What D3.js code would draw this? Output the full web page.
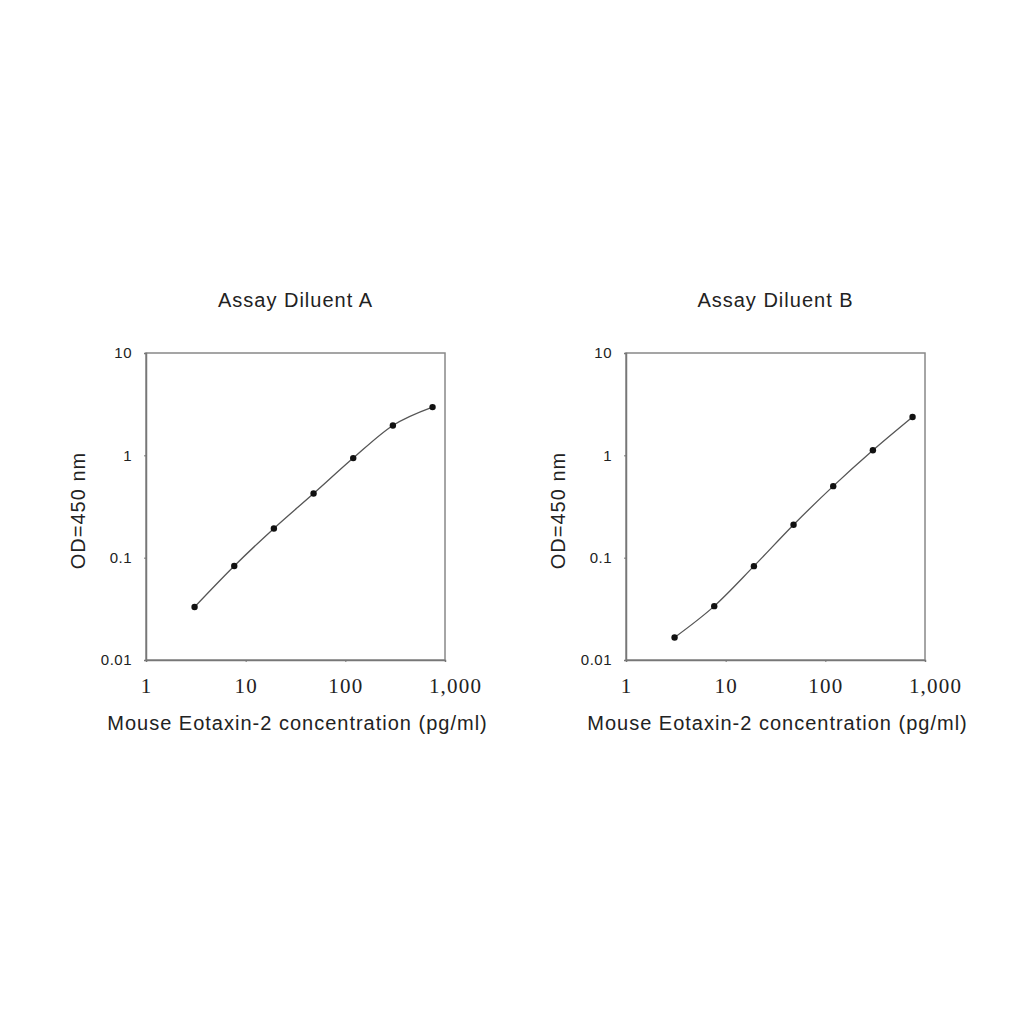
<!DOCTYPE html>
<html>
<head>
<meta charset="utf-8">
<script src="https://cdn.jsdelivr.net/npm/d3@7"></script>
<style>
  body { margin: 0; background: #fff; }
  .title { font-family: "Liberation Sans", Arial, sans-serif; font-size: 20px; letter-spacing: 1px; fill: #222; }
  .label { font-family: "Liberation Sans", Arial, sans-serif; font-size: 20px; letter-spacing: 1px; fill: #222; }
  .y-axis text { font-family: "Liberation Sans", Arial, sans-serif; font-size: 15px; letter-spacing: 0.5px; fill: #222; }
  .x-axis text { font-family: "Liberation Serif", "Times New Roman", serif; font-size: 21px; letter-spacing: 1.2px; fill: #222; }
  .domain, .tick line { stroke: #777; }
</style>
</head>
<body>
<div class="content"></div>
<script>
var concentration = [3.072, 7.68, 19.2, 48, 120, 300, 750];
var odDiluentA = [0.033, 0.083, 0.193, 0.423, 0.94, 1.96, 2.96];
var odDiluentB = [0.0166, 0.0336, 0.0826, 0.21, 0.50, 1.12, 2.37];
var titles = ["Assay Diluent A", "Assay Diluent B"];
var xTicks = [1, 10, 100, 1000];
var xTickLabels = ["1", "10", "100", "1,000"];
var yTicks = [0.01, 0.1, 1, 10];
var yTickLabels = ["0.01", "0.1", "1", "10"];
var xLabel = "Mouse Eotaxin-2 concentration (pg/ml)";
var yLabel = "OD=450 nm";

var svg = d3.select("div.content").append("svg")
    .attr("width", 1024)
    .attr("height", 1024);

var plotWidth = 299, plotHeight = 307;
var panels = [
    {left: 146, top: 353, values: odDiluentA, title: titles[0]},
    {left: 626, top: 353, values: odDiluentB, title: titles[1]}
];

panels.forEach(function(p){
    var x = d3.scaleLog().domain([1, 1000]).range([0, plotWidth]);
    var y = d3.scaleLog().domain([0.01, 10]).range([plotHeight, 0]);
    var g = svg.append("g").attr("transform", "translate(" + p.left + "," + p.top + ")");
    var data = concentration.map(function(c, i){ return {x: c, y: p.values[i]}; });

    //frame
    g.append("rect")
        .attr("width", plotWidth)
        .attr("height", plotHeight)
        .attr("fill", "none")
        .attr("stroke", "#888")
        .attr("stroke-width", 1.5);

    //x-axis
    var xAxisG = g.append("g")
        .attr("class", "x-axis")
        .attr("transform", "translate(0," + plotHeight + ")")
        .call(d3.axisBottom(x).tickValues(xTicks).tickSize(2).tickPadding(16)
            .tickFormat(function(d, i){ return xTickLabels[i]; }))
        .call(function(a){ a.select(".domain").attr("stroke-width", 1.5); });
    // the 1,000 label sits a little right of its tick in the original
    xAxisG.selectAll(".tick text").filter(function(d){ return d === 1000; }).attr("dx", 10);

    //y-axis
    g.append("g")
        .attr("class", "y-axis")
        .call(d3.axisLeft(y).tickValues(yTicks).tickSize(2).tickPadding(12)
            .tickFormat(function(d, i){ return yTickLabels[i]; }))
        .call(function(a){ a.select(".domain").attr("stroke-width", 1.5); });

    //title
    g.append("text")
        .attr("class", "title")
        .attr("x", plotWidth / 2)
        .attr("y", -46)
        .style("text-anchor", "middle")
        .text(p.title);

    //x-label
    g.append("text")
        .attr("class", "label")
        .attr("x", plotWidth / 2 + 2)
        .attr("y", plotHeight + 70)
        .style("text-anchor", "middle")
        .text(xLabel);

    //y-label
    g.append("text")
        .attr("class", "label")
        .attr("transform", "translate(-61," + (plotHeight / 2 + 4) + ") rotate(-90)")
        .style("text-anchor", "middle")
        .text(yLabel);

    //line
    var valueLine = d3.line()
        .x(function(d){ return x(d.x); })
        .y(function(d){ return y(d.y); })
        .curve(d3.curveMonotoneX);
    g.append("path")
        .datum(data)
        .attr("d", valueLine)
        .attr("fill", "none")
        .attr("stroke", "#555")
        .attr("stroke-width", 1.3);

    //points
    g.selectAll(".dot")
        .data(data)
        .enter().append("circle")
        .attr("class", "dot")
        .attr("r", 3.2)
        .attr("cx", function(d){ return x(d.x); })
        .attr("cy", function(d){ return y(d.y); })
        .attr("fill", "#111");
});
</script>
</body>
</html>
